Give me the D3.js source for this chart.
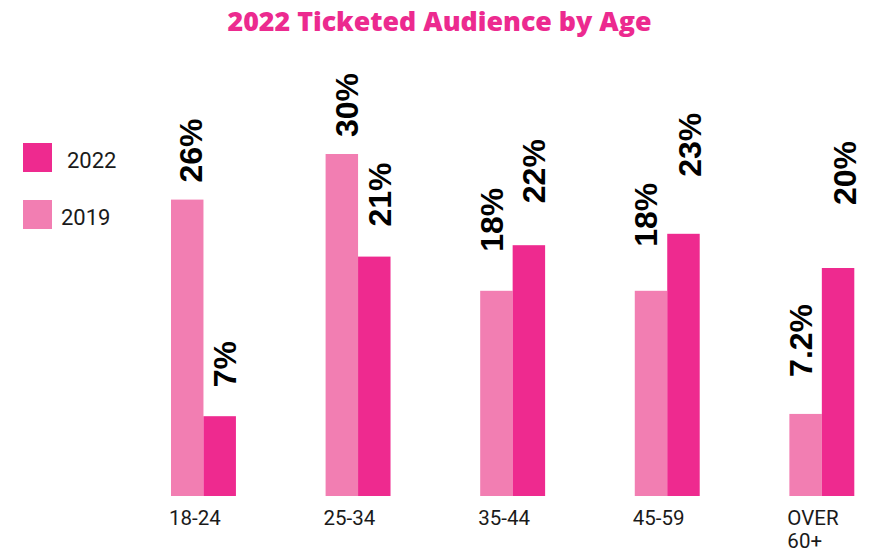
<!DOCTYPE html>
<html>
<head>
<meta charset="utf-8">
<script src="https://cdn.jsdelivr.net/npm/d3@7"></script>
<style>
  html, body { margin: 0; padding: 0; background: #ffffff; }
  svg { display: block; }
</style>
</head>
<body>
<svg id="chart" width="879" height="553"></svg>
<script>
// ---- data ----
const categories = ["18-24", "25-34", "35-44", "45-59", "OVER 60+"];
const series = ["2019", "2022"];
const values2019 = [26, 30, 18, 18, 7.2];
const values2022 = [7, 21, 22, 23, 20];
const valueLabels2019 = ["26%", "30%", "18%", "18%", "7.2%"];
const valueLabels2022 = ["7%", "21%", "22%", "23%", "20%"];
const legendOrder = ["2022", "2019"];
const title = "2022 Ticketed Audience by Age";

// ---- styling / placement (not data) ----
const colors = { "2019": "#F27EB2", "2022": "#EE2A8F" };
const labelGap = { "2019": [17, 17, 39, 44, 37], "2022": [29, 30, 42, 57, 63] };
const labelDx = { "2019": [3, 4.5, -4.5, -5.5, -5], "2022": [4.5, 5, 5, 6, 6] };

const svg = d3.select("#chart");

const x = d3.scaleBand()
  .domain(categories)
  .range([171, 854.3])
  .paddingInner(0.58)
  .paddingOuter(0);

const xs = d3.scaleBand()
  .domain(series)
  .range([0, x.bandwidth()]);

const y = d3.scaleLinear()
  .domain([0, 30])
  .range([496, 154]);

const rows = categories.map((c, i) => ({
  cat: c, i,
  vals: [
    { s: "2019", v: values2019[i], label: valueLabels2019[i] },
    { s: "2022", v: values2022[i], label: valueLabels2022[i] }
  ]
}));

// title
svg.append("text")
  .attr("x", 439.5)
  .attr("y", 31)
  .attr("text-anchor", "middle")
  .attr("font-family", "'Open Sans', 'Liberation Sans', sans-serif")
  .attr("font-weight", 800)
  .attr("font-size", 26)
  .attr("fill", "#EC2A8F")
  .attr("textLength", 424)
  .attr("lengthAdjust", "spacingAndGlyphs")
  .text(title);

// bars
const groups = svg.append("g").selectAll("g")
  .data(rows)
  .join("g")
  .attr("transform", d => `translate(${x(d.cat)},0)`);

groups.selectAll("rect")
  .data(d => d.vals)
  .join("rect")
  .attr("x", d => xs(d.s))
  .attr("y", d => y(d.v))
  .attr("width", xs.bandwidth())
  .attr("height", d => y(0) - y(d.v))
  .attr("fill", d => colors[d.s]);

// value labels (rotated)
groups.each(function(row) {
  d3.select(this).selectAll("text.val")
    .data(row.vals)
    .join("text")
    .attr("class", "val")
    .attr("transform", d => {
      const cx = xs(d.s) + xs.bandwidth() / 2 + labelDx[d.s][row.i];
      const cy = y(d.v) - labelGap[d.s][row.i];
      return `translate(${cx},${cy}) rotate(-90)`;
    })
    .attr("dy", "0.36em")
    .attr("text-anchor", "start")
    .attr("font-family", "'Liberation Sans', Arial, sans-serif")
    .attr("font-weight", "bold")
    .attr("font-size", 32)
    .attr("fill", "#000")
    .text(d => d.label);
});

// category labels
svg.append("g").selectAll("text")
  .data(categories)
  .join("text")
  .attr("x", d => x(d) - 2)
  .attr("y", 525)
  .attr("font-family", "Roboto, 'Noto Sans', sans-serif")
  .attr("font-size", 20.5)
  .attr("fill", "#1a1a1a")
  .each(function(d) {
    const parts = d.split(" ");
    d3.select(this).selectAll("tspan")
      .data(parts)
      .join("tspan")
      .attr("x", x(d) - 2)
      .attr("dy", (p, j) => j === 0 ? 0 : 23)
      .text(p => p);
  });

// legend
const legend = svg.append("g");
const legendY = { "2022": 143, "2019": 200 };
const legendTextX = { "2022": 67, "2019": 61 };
legend.selectAll("rect")
  .data(legendOrder)
  .join("rect")
  .attr("x", 23)
  .attr("y", d => legendY[d])
  .attr("width", 29)
  .attr("height", 29)
  .attr("fill", d => colors[d]);
legend.selectAll("text")
  .data(legendOrder)
  .join("text")
  .attr("x", d => legendTextX[d])
  .attr("y", d => legendY[d] + 25)
  .attr("font-family", "Roboto, 'Noto Sans', sans-serif")
  .attr("font-size", 22)
  .attr("fill", "#1a1a1a")
  .text(d => d);
</script>
</body>
</html>
